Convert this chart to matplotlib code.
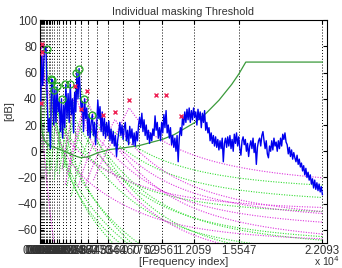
import numpy as np
import matplotlib
matplotlib.use("Agg")
import matplotlib.pyplot as plt

BIN_HZ = 44100 / 1024

# critical band edges used as x ticks (Hz)
band_edges = [43.07, 129.2, 258.4, 344.5, 430.7, 559.9, 689.1, 818.3, 947.5, 1119.7,
              1292.0, 1507.3, 1765.7, 2024.1, 2368.6, 2756.2, 3186.9, 3746.7, 4435.8,
              5340.2, 6459.9, 7751.9, 9560.7, 12058.6, 15547.0, 22093.0]

# power spectrum (dB), every second FFT bin starting at bin 1
spectrum_db = [
    35, 72, 50, 70, 80, 78, 40, 15, 25, 2,
    55, 54, 20, 47, 22, 49, 30, 38, 15, 40,
    10, 35, 18, 51, 25, 44, 22, 51, 28, 40,
    14, 45, 30, 60, 40, 63, 45, 30, 38, 15,
    40, 25, 33, 12, 28, 10, 22, 28, 12, 22,
    5, 20, 39, 25, 34, 15, 30, 12, 25, 10,
    22, 12, 23, 8, 17, 6, 15, 4, 12, -4,
    8, 14, 22, 12, 20, 9, 18, 22, 8, 16,
    5, 19, 10, 17, 5, 14, 4, 15, 8, 20,
    26, 18, 29, 15, 24, 12, 20, 9, 16, 6,
    14, 8, 17, 12, 27, 16, 22, 10, 18, 8,
    22, 14, 28, 18, 31, 14, 20, 10, 18, 5,
    12, 3, 10, 0, 12, -8, 10, 18, 12, 27,
    20, 30, 22, 32, 24, 33, 22, 31, 24, 33,
    26, 30, 20, 32, 24, 30, 18, 29, 22, 31,
    16, 22, 14, 18, 8, 14, 6, 12, 4, 11,
    3, 9, 1, 8, 2, 10, -8, 6, 10, 3,
    11, 4, 12, 2, 9, 0, 13, 6, 14, 4,
    11, 2, -3, 8, 11, 5, 9, 0, 6, -4,
    4, 8, 2, 10, -1, 6, -10, 3, 8, 10,
    4, 12, 15, 8, 2, 8, -2, -5, 4, 0,
    8, 1, 10, 4, 7, 0, 8, 2, 10, 4,
    13, 9, 14, 7, 5, -2, 3, -4, 1, -6,
    -1, -5, -8, -3, -10, -6, -12, -9, -15, -11,
    -18, -13, -20, -16, -22, -18, -25, -21, -28, -22,
    -29, -24, -30, -25, -31, -27, -33,
]

# tonal maskers
tonal_hz = [525, 838, 964, 1097, 1308, 1700, 1959, 2350, 2820, 3055, 3470, 4097]
tonal_db = [78, 55, 54, 47, 49.5, 40, 51.3, 51.3, 60, 62.6, 40, 28]

# non-tonal maskers (the last three show no threshold curve)
noise_hz = [43, 129, 172, 2742, 3235, 3643, 4935, 5876, 6972, 9087, 9847, 11046]
noise_db = [37, 82, 76, 50, 32.6, 45.7, 27.3, 29.8, 38.8, 43, 42.6, 26.7]
noise_curve = [1, 1, 1, 1, 1, 1, 1, 1, 1, 0, 0, 0]

# absolute threshold of hearing
ath_hz = [43, 86, 129, 172, 258, 345, 431, 560, 689, 818, 947, 1120, 1292, 1507,
          1766, 2024, 2369, 2756, 3187, 3747, 4436, 5340, 6460, 7752, 9561, 10500,
          12059, 13000, 14000, 15000, 15547, 16100, 22093]
ath_db = [45, 26, 18.7, 14.9, 10.7, 8.5, 7.1, 5.7, 4.8, 4.1, 3.6, 2.9, 2.4, 1.6,
          0.6, -0.5, -2.0, -3.6, -4.9, -4.3, -1.5, 1.2, 2.5, 4.3, 9.0, 12.7,
          21.6, 29, 38.9, 51, 58.8, 68, 68]


def bark(f):
    f = np.asarray(f, dtype=float)
    return 13 * np.arctan(0.00076 * f) + 3.5 * np.arctan((f / 7500) ** 2)


def spreading(z, zj, x):
    dz = z - zj
    vf = np.full_like(z, np.nan)
    m = (dz >= -3) & (dz < -1)
    vf[m] = 17 * (dz[m] + 1) - (0.4 * x + 6)
    m = (dz >= -1) & (dz < 0)
    vf[m] = (0.4 * x + 6) * dz[m]
    m = (dz >= 0) & (dz < 1)
    vf[m] = -17 * dz[m]
    m = dz >= 1
    vf[m] = -(dz[m] - 1) * (17 - 0.15 * x) - 17
    return vf


spec_hz = np.arange(1, 514, 2) * BIN_HZ
grid_hz = np.arange(1, 514) * BIN_HZ
z = bark(grid_hz)

plt.rcParams['font.family'] = ['Liberation Sans', 'DejaVu Sans']
fig = plt.figure(figsize=(3.42, 2.68), dpi=100)
ax = fig.add_axes([0.117, 0.093, 0.839, 0.832])

for f, x in zip(tonal_hz, tonal_db):
    zj = bark(f)
    t = x - 1.525 - 0.275 * zj - 4.5 + spreading(z, zj, x)
    ax.plot(grid_hz, t, color='#33dd33', linestyle=(0, (1, 1.3)), linewidth=0.8, zorder=2)

for f, x, show in zip(noise_hz, noise_db, noise_curve):
    if not show:
        continue
    zj = bark(f)
    t = x - 1.525 - 0.175 * zj - 0.5 + spreading(z, zj, x)
    ax.plot(grid_hz, t, color='#dd33dd', linestyle=(0, (1, 1.3)), linewidth=0.8, zorder=2)

ax.plot(ath_hz, ath_db, color='#3a9a3a', linewidth=0.9, zorder=3)
ax.plot(spec_hz, spectrum_db, color='#0000ee', linewidth=1.0, zorder=4)
ax.plot(tonal_hz, tonal_db, 'o', mfc='none', mec='#22aa22', ms=5, mew=0.9, zorder=5)
ax.plot(noise_hz, noise_db, 'x', color='#ee2255', ms=3.5, mew=1.0, zorder=5)

ax.set_xlim(0, 22450)
ax.set_ylim(-70, 100)
ax.set_yticks(range(-60, 101, 20))
ax.set_xticks(band_edges)
ax.set_xticklabels([f"{v / 1e4:.4f}" for v in band_edges])
ax.grid(True, axis='x', color='k', linestyle=(0, (1, 2)), linewidth=0.7)
ax.tick_params(direction='in', length=3, top=True, right=True, labelsize=8.3,
               labelcolor='#333333', pad=2)
ax.tick_params(axis='x', pad=1.5)

ax.set_title("Individual masking Threshold", fontsize=7.8, color='#333333', pad=4)
ax.set_xlabel("[Frequency index]", fontsize=8, color='#333333', labelpad=0)
ax.set_ylabel("[dB]", fontsize=8, color='#333333')
ax.yaxis.set_label_coords(-0.09, 0.59)
ax.text(1.0, -0.102, r"x 10$^4$", transform=ax.transAxes, fontsize=7.5,
        color='#333333', ha='center', va='baseline')

fig.savefig("out.png", dpi=100)
